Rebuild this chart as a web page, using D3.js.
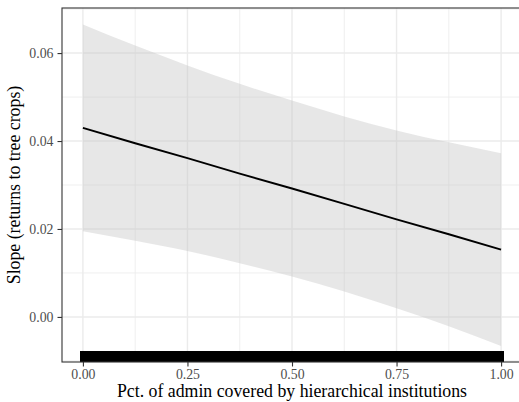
<!DOCTYPE html>
<html>
<head>
<meta charset="utf-8">
<script src="https://cdn.jsdelivr.net/npm/d3@7"></script>
<style>
  html, body { margin: 0; padding: 0; background: #fff; }
</style>
</head>
<body>
<svg id="chart" width="519" height="402"></svg>
<script>
// ---- data ----
const fitX     = [0, 0.125, 0.25, 0.375, 0.5, 0.625, 0.75, 0.875, 1];
const fitY     = [0.0430, 0.0395, 0.0361, 0.0326, 0.0292, 0.0257, 0.0222, 0.0188, 0.0153];
const upperY   = [0.0665, 0.0617, 0.0572, 0.0530, 0.0492, 0.0456, 0.0424, 0.0397, 0.0372];
const lowerY   = [0.0195, 0.0173, 0.0150, 0.0122, 0.0092, 0.0058, 0.0020, -0.0021, -0.0066];
const rugX     = [0.00,0.01,0.02,0.03,0.04,0.05,0.06,0.07,0.08,0.09,0.10,0.11,0.12,0.13,0.14,0.15,0.16,0.17,0.18,0.19,
                  0.20,0.21,0.22,0.23,0.24,0.25,0.26,0.27,0.28,0.29,0.30,0.31,0.32,0.33,0.34,0.35,0.36,0.37,0.38,0.39,
                  0.40,0.41,0.42,0.43,0.44,0.45,0.46,0.47,0.48,0.49,0.495,0.505,0.51,0.52,0.53,0.54,0.55,0.56,0.57,0.58,0.59,
                  0.60,0.61,0.62,0.63,0.635,0.645,0.65,0.66,0.67,0.68,0.69,0.70,0.71,0.72,0.73,0.74,0.75,0.76,0.77,0.78,0.79,
                  0.80,0.81,0.82,0.83,0.84,0.85,0.86,0.87,0.88,0.89,0.90,0.91,0.92,0.93,0.94,0.95,0.96,0.97,0.98,0.99,1.00];
const xTicks   = [0, 0.25, 0.5, 0.75, 1];
const xMinor   = [0.125, 0.375, 0.625, 0.875];
const yTicks   = [0, 0.02, 0.04, 0.06];
const yMinor   = [-0.01, 0.01, 0.03, 0.05, 0.07];
const xTitle   = "Pct. of admin covered by hierarchical institutions";
const yTitle   = "Slope (returns to tree crops)";

const FONT = "'Liberation Serif', 'Times New Roman', Times, Tinos, 'Noto Serif', 'DejaVu Serif', serif";

// ---- layout ----
const svg = d3.select("#chart").style("font-family", FONT);
const L = 62, R = 522, T = 8, B = 362;
const x = d3.scaleLinear().domain([-0.05, 1.05]).range([L, R]);
const y = d3.scaleLinear().domain([-0.01025, 0.07025]).range([B, T]);

svg.append("defs").append("clipPath").attr("id", "pc")
  .append("rect").attr("x", L).attr("y", T).attr("width", R - L).attr("height", B - T);

const panel = svg.append("g").attr("clip-path", "url(#pc)");
panel.append("rect").attr("x", L).attr("y", T).attr("width", R - L).attr("height", B - T).attr("fill", "#fff");

// minor grid
panel.selectAll(".gxm").data(xMinor).enter().append("line")
  .attr("x1", d => x(d)).attr("x2", d => x(d)).attr("y1", T).attr("y2", B)
  .attr("stroke", "#ebebeb").attr("stroke-width", 0.8);
panel.selectAll(".gym").data(yMinor).enter().append("line")
  .attr("y1", d => y(d)).attr("y2", d => y(d)).attr("x1", L).attr("x2", R)
  .attr("stroke", "#ebebeb").attr("stroke-width", 0.8);
// major grid
panel.selectAll(".gx").data(xTicks).enter().append("line")
  .attr("x1", d => x(d)).attr("x2", d => x(d)).attr("y1", T).attr("y2", B)
  .attr("stroke", "#ebebeb").attr("stroke-width", 1.4);
panel.selectAll(".gy").data(yTicks).enter().append("line")
  .attr("y1", d => y(d)).attr("y2", d => y(d)).attr("x1", L).attr("x2", R)
  .attr("stroke", "#ebebeb").attr("stroke-width", 1.4);

// ribbon
const band = fitX.map((d, i) => ({x: d, lo: lowerY[i], hi: upperY[i], f: fitY[i]}));
panel.append("path").datum(band)
  .attr("d", d3.area().x(d => x(d.x)).y0(d => y(d.lo)).y1(d => y(d.hi)).curve(d3.curveMonotoneX))
  .attr("fill", "#c2c2c2").attr("fill-opacity", 0.4);
// fit line
panel.append("path").datum(band)
  .attr("d", d3.line().x(d => x(d.x)).y(d => y(d.f)))
  .attr("fill", "none").attr("stroke", "#000").attr("stroke-width", 1.9);

// rug
panel.selectAll(".rug").data(rugX).enter().append("line")
  .attr("x1", d => x(d)).attr("x2", d => x(d)).attr("y1", B).attr("y2", B - 10.6)
  .attr("stroke", "#000").attr("stroke-width", 5.2).attr("shape-rendering", "crispEdges");

// border
svg.append("rect").attr("x", L).attr("y", T).attr("width", R - L).attr("height", B - T)
  .attr("fill", "none").attr("stroke", "#333").attr("stroke-width", 1.1);

// axes
const fmt = d3.format(".2f");
const xAxis = svg.append("g").attr("transform", `translate(0,${B})`)
  .call(d3.axisBottom(x).tickValues(xTicks).tickFormat(fmt).tickSize(4.5).tickPadding(3));
const yAxis = svg.append("g").attr("transform", `translate(${L},0)`)
  .call(d3.axisLeft(y).tickValues(yTicks).tickFormat(fmt).tickSize(4.5).tickPadding(4));
[xAxis, yAxis].forEach(a => {
  a.attr("font-family", null).attr("font-size", 13.8);
  a.select(".domain").remove();
  a.selectAll(".tick line").attr("stroke", "#333").attr("stroke-width", 1.1);
  a.selectAll(".tick text").attr("fill", "#4d4d4d").style("font-family", FONT);
});

// titles
svg.append("text").attr("x", (L + R) / 2).attr("y", 397).attr("text-anchor", "middle")
  .style("font-family", FONT).attr("font-size", 17.8).attr("fill", "#000").text(xTitle);
svg.append("text").attr("transform", `translate(20,${(T + B) / 2}) rotate(-90)`).attr("text-anchor", "middle")
  .style("font-family", FONT).attr("font-size", 17.8).attr("fill", "#000").text(yTitle);
</script>
</body>
</html>
